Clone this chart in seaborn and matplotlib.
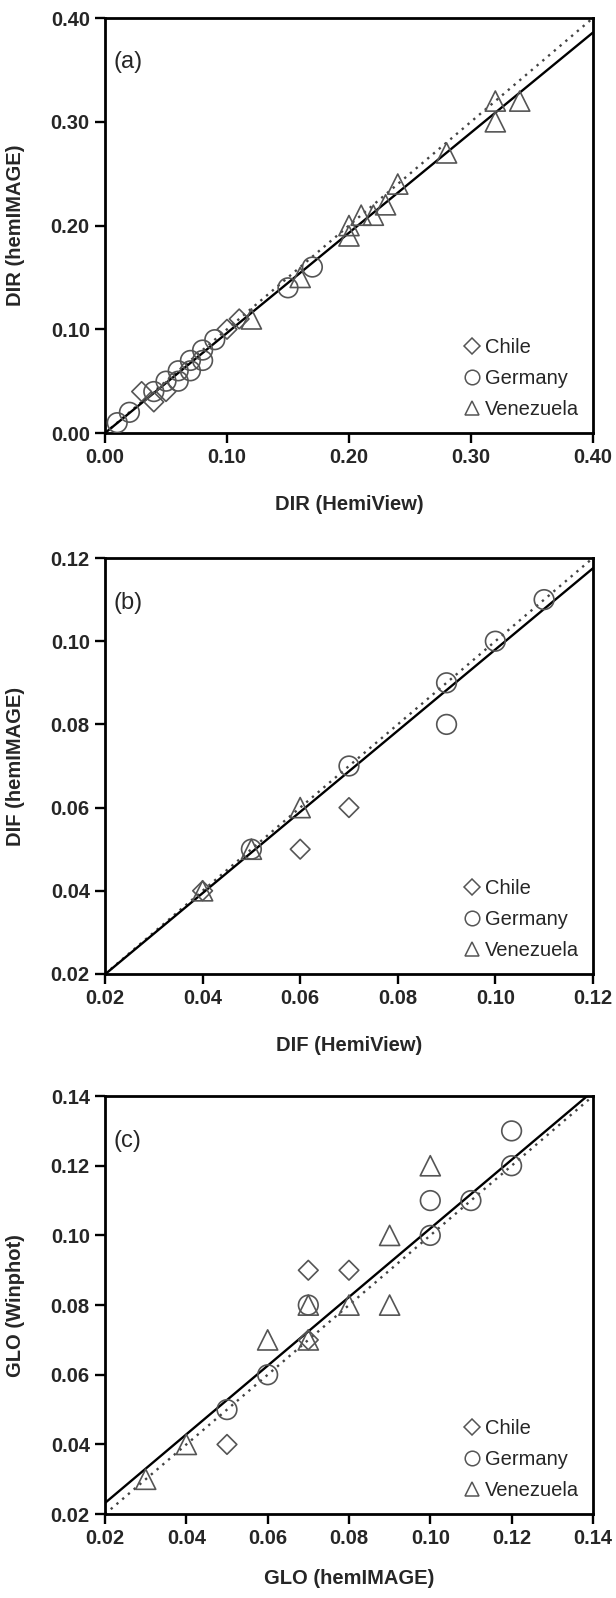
import numpy as np
import pandas as pd
import matplotlib
matplotlib.use("Agg")
import matplotlib.pyplot as plt
from matplotlib.lines import Line2D
import seaborn as sns

# ---- data ----
countries = ["Chile", "Germany", "Venezuela"]

# (a) DIR: HemiView (x) vs hemIMAGE (y)
dir_chile_x = [0.03, 0.04, 0.05, 0.10, 0.11]
dir_chile_y = [0.04, 0.03, 0.04, 0.10, 0.11]
dir_germany_x = [0.01, 0.02, 0.04, 0.05, 0.06, 0.06, 0.07, 0.07, 0.08, 0.08, 0.09, 0.15, 0.17]
dir_germany_y = [0.01, 0.02, 0.04, 0.05, 0.05, 0.06, 0.06, 0.07, 0.07, 0.08, 0.09, 0.14, 0.16]
dir_venez_x = [0.12, 0.16, 0.20, 0.20, 0.21, 0.22, 0.23, 0.24, 0.28, 0.32, 0.32, 0.34]
dir_venez_y = [0.11, 0.15, 0.19, 0.20, 0.21, 0.21, 0.22, 0.24, 0.27, 0.30, 0.32, 0.32]

# (b) DIF: HemiView (x) vs hemIMAGE (y)
dif_chile_x = [0.04, 0.06, 0.07]
dif_chile_y = [0.04, 0.05, 0.06]
dif_germany_x = [0.05, 0.07, 0.09, 0.09, 0.10, 0.11]
dif_germany_y = [0.05, 0.07, 0.09, 0.08, 0.10, 0.11]
dif_venez_x = [0.04, 0.05, 0.06]
dif_venez_y = [0.04, 0.05, 0.06]

# (c) GLO: hemIMAGE (x) vs Winphot (y)
glo_chile_x = [0.05, 0.07, 0.07, 0.08]
glo_chile_y = [0.04, 0.07, 0.09, 0.09]
glo_germany_x = [0.05, 0.06, 0.07, 0.10, 0.10, 0.11, 0.12, 0.12]
glo_germany_y = [0.05, 0.06, 0.08, 0.10, 0.11, 0.11, 0.12, 0.13]
glo_venez_x = [0.03, 0.04, 0.06, 0.07, 0.07, 0.08, 0.09, 0.09, 0.10]
glo_venez_y = [0.03, 0.04, 0.07, 0.07, 0.08, 0.08, 0.08, 0.10, 0.12]

# regression lines (slope, intercept)
fit_dir = (0.965, 0.0)
fit_dif = (0.976, 0.0004)
fit_glo = (0.985, 0.0035)

dir_ticks = [0.00, 0.10, 0.20, 0.30, 0.40]
dif_ticks = [0.02, 0.04, 0.06, 0.08, 0.10, 0.12]
glo_ticks = [0.02, 0.04, 0.06, 0.08, 0.10, 0.12, 0.14]


def make_df(cx, cy, gx, gy, vx, vy):
    parts = []
    for name, xs, ys in zip(countries, [cx, gx, vx], [cy, gy, vy]):
        parts.append(pd.DataFrame({"x": xs, "y": ys, "country": name}))
    return pd.concat(parts, ignore_index=True)


panels = [
    dict(df=make_df(dir_chile_x, dir_chile_y, dir_germany_x, dir_germany_y, dir_venez_x, dir_venez_y),
         ticks=dir_ticks, fit=fit_dir, tag="(a)", xlab_y=-0.15,
         xlabel="DIR (HemiView)", ylabel="DIR (hemIMAGE)", rect=[0.1705, 0.729, 0.792, 0.2597]),
    dict(df=make_df(dif_chile_x, dif_chile_y, dif_germany_x, dif_germany_y, dif_venez_x, dif_venez_y),
         ticks=dif_ticks, fit=fit_dif, tag="(b)", xlab_y=-0.15,
         xlabel="DIF (HemiView)", ylabel="DIF (hemIMAGE)", rect=[0.1705, 0.3905, 0.792, 0.2603]),
    dict(df=make_df(glo_chile_x, glo_chile_y, glo_germany_x, glo_germany_y, glo_venez_x, glo_venez_y),
         ticks=glo_ticks, fit=fit_glo, tag="(c)", xlab_y=-0.132,
         xlabel="GLO (hemIMAGE)", ylabel="GLO (Winphot)", rect=[0.1705, 0.0525, 0.792, 0.2616]),
]

sns.set_theme(style="ticks")
plt.rcParams["font.family"] = ["Liberation Sans", "DejaVu Sans"]

markers = {"Chile": "D", "Germany": "o", "Venezuela": "^"}
sizes = {"Chile": 100, "Germany": 200, "Venezuela": 210}
edge = "#555555"

fig = plt.figure(figsize=(6.16, 15.98), dpi=100)

for p in panels:
    ax = fig.add_axes(p["rect"])
    lo, hi = p["ticks"][0], p["ticks"][-1]
    xl = np.array([lo, hi])

    # 1:1 line (dotted) and fitted line (solid)
    ax.plot(xl, xl, linestyle=(0, (1, 2.2)), color="#444444", lw=1.7, zorder=1)
    m, b = p["fit"]
    ax.plot(xl, m * xl + b, color="black", lw=1.7, zorder=2)

    df = p["df"]
    for c in countries:
        sub = df[df["country"] == c]
        sns.scatterplot(data=sub, x="x", y="y", ax=ax, marker=markers[c], s=sizes[c],
                        facecolor="none", edgecolor=edge, linewidth=1.2, zorder=3,
                        legend=False)

    ax.set_xlim(lo, hi)
    ax.set_ylim(lo, hi)
    ax.set_xticks(p["ticks"])
    ax.set_yticks(p["ticks"])
    ax.set_xticklabels([f"{t:.2f}" for t in p["ticks"]], fontweight="bold", fontsize=14.5)
    ax.set_yticklabels([f"{t:.2f}" for t in p["ticks"]], fontweight="bold", fontsize=14.5)
    ax.tick_params(direction="out", length=7, width=1.7, color="black", pad=4)
    for s in ax.spines.values():
        s.set_visible(True)
        s.set_linewidth(2.0)
        s.set_color("black")

    ax.set_xlabel(p["xlabel"], fontweight="bold", fontsize=14.5)
    ax.set_ylabel(p["ylabel"], fontweight="bold", fontsize=14.5)
    ax.xaxis.set_label_coords(0.5, p["xlab_y"])
    ax.yaxis.set_label_coords(-0.165, 0.5)

    ax.text(0.018, 0.893, p["tag"], transform=ax.transAxes, fontsize=17,
            ha="left", va="center")

    handles = [Line2D([], [], linestyle="none", marker=markers[c],
                      markersize=(8 if c == "Chile" else 10.5),
                      markerfacecolor="none", markeredgecolor=edge, markeredgewidth=1.1,
                      label=c) for c in countries]
    ax.legend(handles=handles, loc="lower right", frameon=False, fontsize=14.5,
              handlelength=0.8, handletextpad=0.25, labelspacing=0.6,
              borderaxespad=0.3)

fig.savefig("out.png", dpi=100)
